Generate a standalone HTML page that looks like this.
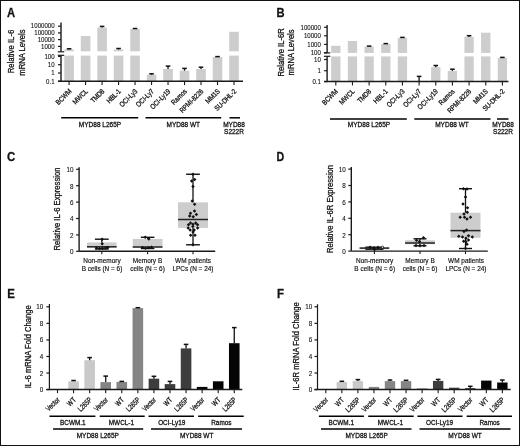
<!DOCTYPE html>
<html><head><meta charset="utf-8"><style>
html,body{margin:0;padding:0;background:#fff;}
#fig{position:relative;width:520px;height:446px;box-sizing:border-box;border:1px solid #111;overflow:hidden;background:#fff;}
svg{position:absolute;left:-1px;top:-1px;will-change:transform;}
text{font-family:"Liberation Sans", sans-serif;stroke:#111;stroke-width:0.28px;paint-order:stroke;}
text.tk{stroke-width:0.1px;}
text.lt{stroke-width:0.16px;}
</style></head><body>
<div id="fig"><svg width="520" height="446" viewBox="0 0 520 446" font-family='"Liberation Sans", sans-serif'>
<text x="6.90" y="16.60" font-size="12.4" text-anchor="start" font-weight="bold" fill="#111" textLength="8.10" lengthAdjust="spacingAndGlyphs">A</text>
<text x="276.60" y="17.00" font-size="12.4" text-anchor="start" font-weight="bold" fill="#111" textLength="8.10" lengthAdjust="spacingAndGlyphs">B</text>
<text x="6.90" y="160.80" font-size="12.4" text-anchor="start" font-weight="bold" fill="#111" textLength="8.30" lengthAdjust="spacingAndGlyphs">C</text>
<text x="276.60" y="160.80" font-size="12.4" text-anchor="start" font-weight="bold" fill="#111" textLength="7.70" lengthAdjust="spacingAndGlyphs">D</text>
<text x="7.20" y="298.30" font-size="12.4" text-anchor="start" font-weight="bold" fill="#111" textLength="7.60" lengthAdjust="spacingAndGlyphs">E</text>
<text x="277.00" y="298.30" font-size="12.4" text-anchor="start" font-weight="bold" fill="#111" textLength="7.00" lengthAdjust="spacingAndGlyphs">F</text>
<rect x="64.30" y="49.50" width="9.60" height="1.80" fill="#cdcdcd"/>
<rect x="64.30" y="55.60" width="9.60" height="25.70" fill="#cdcdcd"/>
<line x1="69.10" y1="48.80" x2="69.10" y2="49.50" stroke="#111" stroke-width="1.3"/>
<line x1="66.80" y1="48.80" x2="71.40" y2="48.80" stroke="#111" stroke-width="1.5"/>
<rect x="80.79" y="36.00" width="9.60" height="15.30" fill="#cdcdcd"/>
<rect x="80.79" y="55.60" width="9.60" height="25.70" fill="#cdcdcd"/>
<rect x="97.28" y="27.60" width="9.60" height="23.70" fill="#cdcdcd"/>
<rect x="97.28" y="55.60" width="9.60" height="25.70" fill="#cdcdcd"/>
<line x1="102.08" y1="26.40" x2="102.08" y2="27.60" stroke="#111" stroke-width="1.3"/>
<line x1="99.78" y1="26.40" x2="104.38" y2="26.40" stroke="#111" stroke-width="1.5"/>
<rect x="113.77" y="49.50" width="9.60" height="1.80" fill="#cdcdcd"/>
<rect x="113.77" y="55.60" width="9.60" height="25.70" fill="#cdcdcd"/>
<line x1="118.57" y1="48.50" x2="118.57" y2="49.50" stroke="#111" stroke-width="1.3"/>
<line x1="116.27" y1="48.50" x2="120.87" y2="48.50" stroke="#111" stroke-width="1.5"/>
<rect x="130.26" y="28.90" width="9.60" height="22.40" fill="#cdcdcd"/>
<rect x="130.26" y="55.60" width="9.60" height="25.70" fill="#cdcdcd"/>
<line x1="135.06" y1="28.50" x2="135.06" y2="28.90" stroke="#111" stroke-width="1.3"/>
<line x1="132.76" y1="28.50" x2="137.36" y2="28.50" stroke="#111" stroke-width="1.5"/>
<rect x="146.75" y="74.70" width="9.60" height="6.60" fill="#cdcdcd"/>
<line x1="151.55" y1="73.80" x2="151.55" y2="74.70" stroke="#111" stroke-width="1.3"/>
<line x1="149.25" y1="73.80" x2="153.85" y2="73.80" stroke="#111" stroke-width="1.5"/>
<rect x="163.24" y="69.00" width="9.60" height="12.30" fill="#cdcdcd"/>
<line x1="168.04" y1="66.10" x2="168.04" y2="69.00" stroke="#111" stroke-width="1.3"/>
<line x1="165.74" y1="66.10" x2="170.34" y2="66.10" stroke="#111" stroke-width="1.5"/>
<rect x="179.73" y="70.70" width="9.60" height="10.60" fill="#cdcdcd"/>
<line x1="184.53" y1="68.40" x2="184.53" y2="70.70" stroke="#111" stroke-width="1.3"/>
<line x1="182.23" y1="68.40" x2="186.83" y2="68.40" stroke="#111" stroke-width="1.5"/>
<rect x="196.22" y="69.00" width="9.60" height="12.30" fill="#cdcdcd"/>
<line x1="201.02" y1="67.20" x2="201.02" y2="69.00" stroke="#111" stroke-width="1.3"/>
<line x1="198.72" y1="67.20" x2="203.32" y2="67.20" stroke="#111" stroke-width="1.5"/>
<rect x="212.71" y="57.00" width="9.60" height="24.30" fill="#cdcdcd"/>
<line x1="217.51" y1="56.60" x2="217.51" y2="57.00" stroke="#111" stroke-width="1.3"/>
<line x1="215.21" y1="56.60" x2="219.81" y2="56.60" stroke="#111" stroke-width="1.5"/>
<rect x="229.20" y="31.80" width="9.60" height="19.50" fill="#cdcdcd"/>
<rect x="229.20" y="55.60" width="9.60" height="25.70" fill="#cdcdcd"/>
<line x1="61.00" y1="22.60" x2="61.00" y2="51.80" stroke="#1a1a1a" stroke-width="1.4"/>
<line x1="61.00" y1="55.30" x2="61.00" y2="81.30" stroke="#1a1a1a" stroke-width="1.4"/>
<line x1="57.80" y1="51.80" x2="64.20" y2="51.80" stroke="#1a1a1a" stroke-width="1.2"/>
<line x1="57.80" y1="55.30" x2="64.20" y2="55.30" stroke="#1a1a1a" stroke-width="1.2"/>
<line x1="58.00" y1="26.20" x2="61.00" y2="26.20" stroke="#1a1a1a" stroke-width="1.2"/>
<text class="tk" x="54.60" y="28.40" font-size="6.6" text-anchor="end" fill="#111" textLength="23.75" lengthAdjust="spacingAndGlyphs">1000000</text>
<line x1="58.00" y1="32.90" x2="61.00" y2="32.90" stroke="#1a1a1a" stroke-width="1.2"/>
<text class="tk" x="54.60" y="35.10" font-size="6.6" text-anchor="end" fill="#111" textLength="20.36" lengthAdjust="spacingAndGlyphs">100000</text>
<line x1="58.00" y1="39.60" x2="61.00" y2="39.60" stroke="#1a1a1a" stroke-width="1.2"/>
<text class="tk" x="54.60" y="41.80" font-size="6.6" text-anchor="end" fill="#111" textLength="16.96" lengthAdjust="spacingAndGlyphs">10000</text>
<line x1="58.00" y1="46.40" x2="61.00" y2="46.40" stroke="#1a1a1a" stroke-width="1.2"/>
<text class="tk" x="54.60" y="48.60" font-size="6.6" text-anchor="end" fill="#111" textLength="13.57" lengthAdjust="spacingAndGlyphs">1000</text>
<line x1="58.00" y1="56.40" x2="61.00" y2="56.40" stroke="#1a1a1a" stroke-width="1.2"/>
<text class="tk" x="54.60" y="58.60" font-size="6.6" text-anchor="end" fill="#111" textLength="10.18" lengthAdjust="spacingAndGlyphs">100</text>
<line x1="58.00" y1="64.70" x2="61.00" y2="64.70" stroke="#1a1a1a" stroke-width="1.2"/>
<text class="tk" x="54.60" y="66.90" font-size="6.6" text-anchor="end" fill="#111" textLength="6.79" lengthAdjust="spacingAndGlyphs">10</text>
<line x1="58.00" y1="73.00" x2="61.00" y2="73.00" stroke="#1a1a1a" stroke-width="1.2"/>
<text class="tk" x="54.60" y="75.20" font-size="6.6" text-anchor="end" fill="#111" textLength="3.39" lengthAdjust="spacingAndGlyphs">1</text>
<line x1="58.00" y1="81.30" x2="61.00" y2="81.30" stroke="#1a1a1a" stroke-width="1.2"/>
<text class="tk" x="54.60" y="83.50" font-size="6.6" text-anchor="end" fill="#111" textLength="8.48" lengthAdjust="spacingAndGlyphs">0.1</text>
<line x1="58.00" y1="81.30" x2="243.00" y2="81.30" stroke="#1a1a1a" stroke-width="1.5"/>
<text x="14.40" y="51.50" font-size="8.6" text-anchor="middle" fill="#111" transform="rotate(-90 14.40 51.50)" textLength="43.60" lengthAdjust="spacingAndGlyphs">Relative IL-6</text>
<text x="24.80" y="52.60" font-size="8.6" text-anchor="middle" fill="#111" transform="rotate(-90 24.80 52.60)" textLength="46.20" lengthAdjust="spacingAndGlyphs">mRNA Levels</text>
<line x1="69.10" y1="81.30" x2="69.10" y2="85.10" stroke="#1a1a1a" stroke-width="1.1"/>
<text x="72.00" y="91.80" font-size="7.2" text-anchor="end" fill="#111" transform="rotate(-45 72.00 91.80)" textLength="19.00" lengthAdjust="spacingAndGlyphs">BCWM</text>
<line x1="85.59" y1="81.30" x2="85.59" y2="85.10" stroke="#1a1a1a" stroke-width="1.1"/>
<text x="88.49" y="91.80" font-size="7.2" text-anchor="end" fill="#111" transform="rotate(-45 88.49 91.80)" textLength="18.33" lengthAdjust="spacingAndGlyphs">MWCL</text>
<line x1="102.08" y1="81.30" x2="102.08" y2="85.10" stroke="#1a1a1a" stroke-width="1.1"/>
<text x="104.98" y="91.80" font-size="7.2" text-anchor="end" fill="#111" transform="rotate(-45 104.98 91.80)" textLength="16.33" lengthAdjust="spacingAndGlyphs">TMD8</text>
<line x1="118.57" y1="81.30" x2="118.57" y2="85.10" stroke="#1a1a1a" stroke-width="1.1"/>
<text x="121.47" y="91.80" font-size="7.2" text-anchor="end" fill="#111" transform="rotate(-45 121.47 91.80)" textLength="17.01" lengthAdjust="spacingAndGlyphs">HBL-1</text>
<line x1="135.06" y1="81.30" x2="135.06" y2="85.10" stroke="#1a1a1a" stroke-width="1.1"/>
<text x="137.96" y="91.80" font-size="7.2" text-anchor="end" fill="#111" transform="rotate(-45 137.96 91.80)" textLength="22.12" lengthAdjust="spacingAndGlyphs">OCI-Ly3</text>
<line x1="151.55" y1="81.30" x2="151.55" y2="85.10" stroke="#1a1a1a" stroke-width="1.1"/>
<text x="154.45" y="91.80" font-size="7.2" text-anchor="end" fill="#111" transform="rotate(-45 154.45 91.80)" textLength="22.12" lengthAdjust="spacingAndGlyphs">OCI-Ly7</text>
<line x1="168.04" y1="81.30" x2="168.04" y2="85.10" stroke="#1a1a1a" stroke-width="1.1"/>
<text x="170.94" y="91.80" font-size="7.2" text-anchor="end" fill="#111" transform="rotate(-45 170.94 91.80)" textLength="25.45" lengthAdjust="spacingAndGlyphs">OCI-Ly19</text>
<line x1="184.53" y1="81.30" x2="184.53" y2="85.10" stroke="#1a1a1a" stroke-width="1.1"/>
<text x="187.43" y="91.80" font-size="7.2" text-anchor="end" fill="#111" transform="rotate(-45 187.43 91.80)" textLength="19.00" lengthAdjust="spacingAndGlyphs">Ramos</text>
<line x1="201.02" y1="81.30" x2="201.02" y2="85.10" stroke="#1a1a1a" stroke-width="1.1"/>
<text x="203.92" y="91.80" font-size="7.2" text-anchor="end" fill="#111" transform="rotate(-45 203.92 91.80)" textLength="30.35" lengthAdjust="spacingAndGlyphs">RPMI-8226</text>
<line x1="217.51" y1="81.30" x2="217.51" y2="85.10" stroke="#1a1a1a" stroke-width="1.1"/>
<text x="220.41" y="91.80" font-size="7.2" text-anchor="end" fill="#111" transform="rotate(-45 220.41 91.80)" textLength="17.34" lengthAdjust="spacingAndGlyphs">MM1S</text>
<line x1="234.00" y1="81.30" x2="234.00" y2="85.10" stroke="#1a1a1a" stroke-width="1.1"/>
<text x="236.90" y="91.80" font-size="7.2" text-anchor="end" fill="#111" transform="rotate(-45 236.90 91.80)" textLength="27.67" lengthAdjust="spacingAndGlyphs">SU-DHL-2</text>
<line x1="61.20" y1="117.80" x2="138.20" y2="117.80" stroke="#000" stroke-width="1.5"/>
<line x1="145.50" y1="117.80" x2="221.20" y2="117.80" stroke="#000" stroke-width="1.5"/>
<line x1="229.50" y1="117.80" x2="240.00" y2="117.80" stroke="#000" stroke-width="1.5"/>
<text x="100.00" y="126.80" font-size="7.0" text-anchor="middle" fill="#111" textLength="42.28" lengthAdjust="spacingAndGlyphs">MYD88 L265P</text>
<text x="183.30" y="126.80" font-size="7.0" text-anchor="middle" fill="#111" textLength="33.59" lengthAdjust="spacingAndGlyphs">MYD88 WT</text>
<text x="234.00" y="126.60" font-size="7.0" text-anchor="middle" fill="#111" textLength="21.67" lengthAdjust="spacingAndGlyphs">MYD88</text>
<text x="234.00" y="134.00" font-size="7.0" text-anchor="middle" fill="#111" textLength="19.87" lengthAdjust="spacingAndGlyphs">S222R</text>
<rect x="331.15" y="45.80" width="9.30" height="7.10" fill="#cdcdcd"/>
<rect x="331.15" y="56.40" width="9.30" height="25.20" fill="#cdcdcd"/>
<rect x="347.81" y="41.00" width="9.30" height="11.90" fill="#cdcdcd"/>
<rect x="347.81" y="56.40" width="9.30" height="25.20" fill="#cdcdcd"/>
<rect x="364.47" y="46.60" width="9.30" height="6.30" fill="#cdcdcd"/>
<rect x="364.47" y="56.40" width="9.30" height="25.20" fill="#cdcdcd"/>
<line x1="369.12" y1="46.10" x2="369.12" y2="46.60" stroke="#111" stroke-width="1.3"/>
<line x1="366.82" y1="46.10" x2="371.42" y2="46.10" stroke="#111" stroke-width="1.5"/>
<rect x="381.13" y="44.00" width="9.30" height="8.90" fill="#cdcdcd"/>
<rect x="381.13" y="56.40" width="9.30" height="25.20" fill="#cdcdcd"/>
<line x1="385.78" y1="43.60" x2="385.78" y2="44.00" stroke="#111" stroke-width="1.3"/>
<line x1="383.48" y1="43.60" x2="388.08" y2="43.60" stroke="#111" stroke-width="1.5"/>
<rect x="397.79" y="37.70" width="9.30" height="15.20" fill="#cdcdcd"/>
<rect x="397.79" y="56.40" width="9.30" height="25.20" fill="#cdcdcd"/>
<line x1="402.44" y1="37.40" x2="402.44" y2="37.70" stroke="#111" stroke-width="1.3"/>
<line x1="400.14" y1="37.40" x2="404.74" y2="37.40" stroke="#111" stroke-width="1.5"/>
<line x1="419.10" y1="76.40" x2="419.10" y2="81.60" stroke="#111" stroke-width="1.3"/>
<line x1="416.80" y1="76.40" x2="421.40" y2="76.40" stroke="#111" stroke-width="1.5"/>
<rect x="431.11" y="67.20" width="9.30" height="14.40" fill="#cdcdcd"/>
<line x1="435.76" y1="65.50" x2="435.76" y2="67.20" stroke="#111" stroke-width="1.3"/>
<line x1="433.46" y1="65.50" x2="438.06" y2="65.50" stroke="#111" stroke-width="1.5"/>
<rect x="447.77" y="70.90" width="9.30" height="10.70" fill="#cdcdcd"/>
<line x1="452.42" y1="69.20" x2="452.42" y2="70.90" stroke="#111" stroke-width="1.3"/>
<line x1="450.12" y1="69.20" x2="454.72" y2="69.20" stroke="#111" stroke-width="1.5"/>
<rect x="464.43" y="36.90" width="9.30" height="16.00" fill="#cdcdcd"/>
<rect x="464.43" y="56.40" width="9.30" height="25.20" fill="#cdcdcd"/>
<line x1="469.08" y1="35.70" x2="469.08" y2="36.90" stroke="#111" stroke-width="1.3"/>
<line x1="466.78" y1="35.70" x2="471.38" y2="35.70" stroke="#111" stroke-width="1.5"/>
<rect x="481.09" y="32.70" width="9.30" height="20.20" fill="#cdcdcd"/>
<rect x="481.09" y="56.40" width="9.30" height="25.20" fill="#cdcdcd"/>
<rect x="497.75" y="57.90" width="9.30" height="23.70" fill="#cdcdcd"/>
<line x1="502.40" y1="57.40" x2="502.40" y2="57.90" stroke="#111" stroke-width="1.3"/>
<line x1="500.10" y1="57.40" x2="504.70" y2="57.40" stroke="#111" stroke-width="1.5"/>
<line x1="327.10" y1="25.00" x2="327.10" y2="52.90" stroke="#1a1a1a" stroke-width="1.4"/>
<line x1="327.10" y1="56.30" x2="327.10" y2="81.60" stroke="#1a1a1a" stroke-width="1.4"/>
<line x1="323.90" y1="52.90" x2="330.30" y2="52.90" stroke="#1a1a1a" stroke-width="1.2"/>
<line x1="323.90" y1="56.30" x2="330.30" y2="56.30" stroke="#1a1a1a" stroke-width="1.2"/>
<line x1="324.10" y1="27.30" x2="327.10" y2="27.30" stroke="#1a1a1a" stroke-width="1.2"/>
<text class="tk" x="320.90" y="29.50" font-size="6.6" text-anchor="end" fill="#111" textLength="20.36" lengthAdjust="spacingAndGlyphs">100000</text>
<line x1="324.10" y1="35.80" x2="327.10" y2="35.80" stroke="#1a1a1a" stroke-width="1.2"/>
<text class="tk" x="320.90" y="38.00" font-size="6.6" text-anchor="end" fill="#111" textLength="16.96" lengthAdjust="spacingAndGlyphs">10000</text>
<line x1="324.10" y1="44.40" x2="327.10" y2="44.40" stroke="#1a1a1a" stroke-width="1.2"/>
<text class="tk" x="320.90" y="46.60" font-size="6.6" text-anchor="end" fill="#111" textLength="13.57" lengthAdjust="spacingAndGlyphs">1000</text>
<line x1="324.10" y1="52.80" x2="327.10" y2="52.80" stroke="#1a1a1a" stroke-width="1.2"/>
<text class="tk" x="320.90" y="55.00" font-size="6.6" text-anchor="end" fill="#111" textLength="10.18" lengthAdjust="spacingAndGlyphs">100</text>
<line x1="324.10" y1="59.50" x2="327.10" y2="59.50" stroke="#1a1a1a" stroke-width="1.2"/>
<text class="tk" x="320.90" y="61.70" font-size="6.6" text-anchor="end" fill="#111" textLength="6.79" lengthAdjust="spacingAndGlyphs">10</text>
<line x1="324.10" y1="70.70" x2="327.10" y2="70.70" stroke="#1a1a1a" stroke-width="1.2"/>
<text class="tk" x="320.90" y="72.90" font-size="6.6" text-anchor="end" fill="#111" textLength="3.39" lengthAdjust="spacingAndGlyphs">1</text>
<line x1="324.10" y1="81.60" x2="327.10" y2="81.60" stroke="#1a1a1a" stroke-width="1.2"/>
<text class="tk" x="320.90" y="83.80" font-size="6.6" text-anchor="end" fill="#111" textLength="8.48" lengthAdjust="spacingAndGlyphs">0.1</text>
<line x1="324.10" y1="81.60" x2="508.50" y2="81.60" stroke="#1a1a1a" stroke-width="1.5"/>
<text x="284.20" y="52.40" font-size="8.6" text-anchor="middle" fill="#111" transform="rotate(-90 284.20 52.40)" textLength="48.20" lengthAdjust="spacingAndGlyphs">Relative IL-6R</text>
<text x="294.40" y="52.40" font-size="8.6" text-anchor="middle" fill="#111" transform="rotate(-90 294.40 52.40)" textLength="46.00" lengthAdjust="spacingAndGlyphs">mRNA Levels</text>
<line x1="335.80" y1="81.60" x2="335.80" y2="85.40" stroke="#1a1a1a" stroke-width="1.1"/>
<text x="338.40" y="92.00" font-size="7.2" text-anchor="end" fill="#111" transform="rotate(-45 338.40 92.00)" textLength="19.00" lengthAdjust="spacingAndGlyphs">BCWM</text>
<line x1="352.46" y1="81.60" x2="352.46" y2="85.40" stroke="#1a1a1a" stroke-width="1.1"/>
<text x="355.06" y="92.00" font-size="7.2" text-anchor="end" fill="#111" transform="rotate(-45 355.06 92.00)" textLength="18.33" lengthAdjust="spacingAndGlyphs">MWCL</text>
<line x1="369.12" y1="81.60" x2="369.12" y2="85.40" stroke="#1a1a1a" stroke-width="1.1"/>
<text x="371.72" y="92.00" font-size="7.2" text-anchor="end" fill="#111" transform="rotate(-45 371.72 92.00)" textLength="16.33" lengthAdjust="spacingAndGlyphs">TMD8</text>
<line x1="385.78" y1="81.60" x2="385.78" y2="85.40" stroke="#1a1a1a" stroke-width="1.1"/>
<text x="388.38" y="92.00" font-size="7.2" text-anchor="end" fill="#111" transform="rotate(-45 388.38 92.00)" textLength="17.01" lengthAdjust="spacingAndGlyphs">HBL-1</text>
<line x1="402.44" y1="81.60" x2="402.44" y2="85.40" stroke="#1a1a1a" stroke-width="1.1"/>
<text x="405.04" y="92.00" font-size="7.2" text-anchor="end" fill="#111" transform="rotate(-45 405.04 92.00)" textLength="22.12" lengthAdjust="spacingAndGlyphs">OCI-Ly3</text>
<line x1="419.10" y1="81.60" x2="419.10" y2="85.40" stroke="#1a1a1a" stroke-width="1.1"/>
<text x="421.70" y="92.00" font-size="7.2" text-anchor="end" fill="#111" transform="rotate(-45 421.70 92.00)" textLength="22.12" lengthAdjust="spacingAndGlyphs">OCI-Ly7</text>
<line x1="435.76" y1="81.60" x2="435.76" y2="85.40" stroke="#1a1a1a" stroke-width="1.1"/>
<text x="438.36" y="92.00" font-size="7.2" text-anchor="end" fill="#111" transform="rotate(-45 438.36 92.00)" textLength="25.45" lengthAdjust="spacingAndGlyphs">OCI-Ly19</text>
<line x1="452.42" y1="81.60" x2="452.42" y2="85.40" stroke="#1a1a1a" stroke-width="1.1"/>
<text x="455.02" y="92.00" font-size="7.2" text-anchor="end" fill="#111" transform="rotate(-45 455.02 92.00)" textLength="19.00" lengthAdjust="spacingAndGlyphs">Ramos</text>
<line x1="469.08" y1="81.60" x2="469.08" y2="85.40" stroke="#1a1a1a" stroke-width="1.1"/>
<text x="471.68" y="92.00" font-size="7.2" text-anchor="end" fill="#111" transform="rotate(-45 471.68 92.00)" textLength="30.35" lengthAdjust="spacingAndGlyphs">RPMI-8226</text>
<line x1="485.74" y1="81.60" x2="485.74" y2="85.40" stroke="#1a1a1a" stroke-width="1.1"/>
<text x="488.34" y="92.00" font-size="7.2" text-anchor="end" fill="#111" transform="rotate(-45 488.34 92.00)" textLength="17.34" lengthAdjust="spacingAndGlyphs">MM1S</text>
<line x1="502.40" y1="81.60" x2="502.40" y2="85.40" stroke="#1a1a1a" stroke-width="1.1"/>
<text x="505.00" y="92.00" font-size="7.2" text-anchor="end" fill="#111" transform="rotate(-45 505.00 92.00)" textLength="27.67" lengthAdjust="spacingAndGlyphs">SU-DHL-2</text>
<line x1="330.00" y1="119.00" x2="406.80" y2="119.00" stroke="#000" stroke-width="1.5"/>
<line x1="414.30" y1="119.00" x2="490.50" y2="119.00" stroke="#000" stroke-width="1.5"/>
<line x1="497.00" y1="119.00" x2="508.50" y2="119.00" stroke="#000" stroke-width="1.5"/>
<text x="369.00" y="127.20" font-size="7.0" text-anchor="middle" fill="#111" textLength="42.28" lengthAdjust="spacingAndGlyphs">MYD88 L265P</text>
<text x="452.00" y="127.10" font-size="7.0" text-anchor="middle" fill="#111" textLength="33.59" lengthAdjust="spacingAndGlyphs">MYD88 WT</text>
<text x="503.00" y="126.90" font-size="7.0" text-anchor="middle" fill="#111" textLength="21.67" lengthAdjust="spacingAndGlyphs">MYD88</text>
<text x="503.00" y="133.90" font-size="7.0" text-anchor="middle" fill="#111" textLength="19.87" lengthAdjust="spacingAndGlyphs">S222R</text>
<line x1="79.10" y1="167.20" x2="79.10" y2="251.30" stroke="#1a1a1a" stroke-width="1.4"/>
<line x1="79.10" y1="251.30" x2="215.20" y2="251.30" stroke="#1a1a1a" stroke-width="1.4"/>
<line x1="76.10" y1="251.30" x2="79.10" y2="251.30" stroke="#1a1a1a" stroke-width="1.2"/>
<text class="tk" x="73.50" y="254.10" font-size="6.6" text-anchor="end" fill="#111" textLength="3.50" lengthAdjust="spacingAndGlyphs">0</text>
<line x1="76.10" y1="234.90" x2="79.10" y2="234.90" stroke="#1a1a1a" stroke-width="1.2"/>
<text class="tk" x="73.50" y="237.70" font-size="6.6" text-anchor="end" fill="#111" textLength="3.50" lengthAdjust="spacingAndGlyphs">2</text>
<line x1="76.10" y1="218.50" x2="79.10" y2="218.50" stroke="#1a1a1a" stroke-width="1.2"/>
<text class="tk" x="73.50" y="221.30" font-size="6.6" text-anchor="end" fill="#111" textLength="3.50" lengthAdjust="spacingAndGlyphs">4</text>
<line x1="76.10" y1="202.10" x2="79.10" y2="202.10" stroke="#1a1a1a" stroke-width="1.2"/>
<text class="tk" x="73.50" y="204.90" font-size="6.6" text-anchor="end" fill="#111" textLength="3.50" lengthAdjust="spacingAndGlyphs">6</text>
<line x1="76.10" y1="185.70" x2="79.10" y2="185.70" stroke="#1a1a1a" stroke-width="1.2"/>
<text class="tk" x="73.50" y="188.50" font-size="6.6" text-anchor="end" fill="#111" textLength="3.50" lengthAdjust="spacingAndGlyphs">8</text>
<line x1="76.10" y1="169.30" x2="79.10" y2="169.30" stroke="#1a1a1a" stroke-width="1.2"/>
<text class="tk" x="73.50" y="172.10" font-size="6.6" text-anchor="end" fill="#111" textLength="7.01" lengthAdjust="spacingAndGlyphs">10</text>
<text x="60.40" y="209.00" font-size="8.6" text-anchor="middle" fill="#111" transform="rotate(-90 60.40 209.00)" textLength="82.80" lengthAdjust="spacingAndGlyphs">Relative IL-6 Expression</text>
<rect x="87.00" y="242.40" width="29.60" height="5.20" fill="#cdcdcd"/>
<line x1="101.80" y1="239.20" x2="101.80" y2="242.40" stroke="#111" stroke-width="1.3"/>
<line x1="101.80" y1="247.60" x2="101.80" y2="249.00" stroke="#111" stroke-width="1.3"/>
<line x1="94.90" y1="239.20" x2="108.70" y2="239.20" stroke="#111" stroke-width="1.4"/>
<line x1="94.90" y1="249.00" x2="108.70" y2="249.00" stroke="#111" stroke-width="1.4"/>
<line x1="87.00" y1="246.80" x2="116.60" y2="246.80" stroke="#222" stroke-width="1.5"/>
<path d="M102.20 237.45L103.95 239.20L102.20 240.95L100.45 239.20Z" fill="#111"/>
<path d="M102.20 241.95L103.95 243.70L102.20 245.45L100.45 243.70Z" fill="#111"/>
<path d="M96.50 246.25L98.25 248.00L96.50 249.75L94.75 248.00Z" fill="#111"/>
<path d="M99.50 246.85L101.25 248.60L99.50 250.35L97.75 248.60Z" fill="#111"/>
<path d="M102.50 246.45L104.25 248.20L102.50 249.95L100.75 248.20Z" fill="#111"/>
<path d="M105.50 246.25L107.25 248.00L105.50 249.75L103.75 248.00Z" fill="#111"/>
<path d="M107.80 245.65L109.55 247.40L107.80 249.15L106.05 247.40Z" fill="#111"/>
<line x1="101.80" y1="251.30" x2="101.80" y2="254.30" stroke="#1a1a1a" stroke-width="1.1"/>
<rect x="132.70" y="238.90" width="29.80" height="8.60" fill="#cdcdcd"/>
<line x1="147.60" y1="237.30" x2="147.60" y2="238.90" stroke="#111" stroke-width="1.3"/>
<line x1="147.60" y1="247.50" x2="147.60" y2="248.50" stroke="#111" stroke-width="1.3"/>
<line x1="140.80" y1="237.30" x2="154.40" y2="237.30" stroke="#111" stroke-width="1.4"/>
<line x1="140.80" y1="248.50" x2="154.40" y2="248.50" stroke="#111" stroke-width="1.4"/>
<line x1="132.70" y1="247.00" x2="162.50" y2="247.00" stroke="#222" stroke-width="1.5"/>
<path d="M145.20 235.45L146.95 237.20L145.20 238.95L143.45 237.20Z" fill="#111"/>
<path d="M148.80 237.15L150.55 238.90L148.80 240.65L147.05 238.90Z" fill="#111"/>
<path d="M142.50 245.85L144.25 247.60L142.50 249.35L140.75 247.60Z" fill="#111"/>
<path d="M145.50 246.45L147.25 248.20L145.50 249.95L143.75 248.20Z" fill="#111"/>
<path d="M148.50 246.05L150.25 247.80L148.50 249.55L146.75 247.80Z" fill="#111"/>
<path d="M151.50 245.45L153.25 247.20L151.50 248.95L149.75 247.20Z" fill="#111"/>
<line x1="147.60" y1="251.30" x2="147.60" y2="254.30" stroke="#1a1a1a" stroke-width="1.1"/>
<rect x="178.00" y="202.30" width="30.00" height="25.60" fill="#cdcdcd"/>
<line x1="193.00" y1="174.25" x2="193.00" y2="202.30" stroke="#111" stroke-width="1.3"/>
<line x1="193.00" y1="227.90" x2="193.00" y2="244.80" stroke="#111" stroke-width="1.3"/>
<line x1="186.10" y1="174.25" x2="199.90" y2="174.25" stroke="#111" stroke-width="1.4"/>
<line x1="186.10" y1="244.80" x2="199.90" y2="244.80" stroke="#111" stroke-width="1.4"/>
<line x1="178.00" y1="219.50" x2="208.00" y2="219.50" stroke="#222" stroke-width="1.5"/>
<path d="M193.00 172.55L194.75 174.30L193.00 176.05L191.25 174.30Z" fill="#111"/>
<path d="M194.60 177.75L196.35 179.50L194.60 181.25L192.85 179.50Z" fill="#111"/>
<path d="M191.60 179.35L193.35 181.10L191.60 182.85L189.85 181.10Z" fill="#111"/>
<path d="M193.00 184.75L194.75 186.50L193.00 188.25L191.25 186.50Z" fill="#111"/>
<path d="M192.20 199.25L193.95 201.00L192.20 202.75L190.45 201.00Z" fill="#111"/>
<path d="M194.60 202.45L196.35 204.20L194.60 205.95L192.85 204.20Z" fill="#111"/>
<path d="M194.50 209.25L196.25 211.00L194.50 212.75L192.75 211.00Z" fill="#111"/>
<path d="M190.50 211.45L192.25 213.20L190.50 214.95L188.75 213.20Z" fill="#111"/>
<path d="M196.40 212.65L198.15 214.40L196.40 216.15L194.65 214.40Z" fill="#111"/>
<path d="M189.70 214.25L191.45 216.00L189.70 217.75L187.95 216.00Z" fill="#111"/>
<path d="M193.20 214.95L194.95 216.70L193.20 218.45L191.45 216.70Z" fill="#111"/>
<path d="M190.50 221.15L192.25 222.90L190.50 224.65L188.75 222.90Z" fill="#111"/>
<path d="M195.70 221.25L197.45 223.00L195.70 224.75L193.95 223.00Z" fill="#111"/>
<path d="M193.00 222.45L194.75 224.20L193.00 225.95L191.25 224.20Z" fill="#111"/>
<path d="M188.50 223.05L190.25 224.80L188.50 226.55L186.75 224.80Z" fill="#111"/>
<path d="M197.50 223.05L199.25 224.80L197.50 226.55L195.75 224.80Z" fill="#111"/>
<path d="M188.20 226.15L189.95 227.90L188.20 229.65L186.45 227.90Z" fill="#111"/>
<path d="M197.60 226.15L199.35 227.90L197.60 229.65L195.85 227.90Z" fill="#111"/>
<path d="M192.80 224.85L194.55 226.60L192.80 228.35L191.05 226.60Z" fill="#111"/>
<path d="M190.20 228.15L191.95 229.90L190.20 231.65L188.45 229.90Z" fill="#111"/>
<path d="M194.20 228.15L195.95 229.90L194.20 231.65L192.45 229.90Z" fill="#111"/>
<path d="M193.00 230.25L194.75 232.00L193.00 233.75L191.25 232.00Z" fill="#111"/>
<path d="M190.60 233.45L192.35 235.20L190.60 236.95L188.85 235.20Z" fill="#111"/>
<path d="M195.00 233.45L196.75 235.20L195.00 236.95L193.25 235.20Z" fill="#111"/>
<path d="M193.00 243.05L194.75 244.80L193.00 246.55L191.25 244.80Z" fill="#111"/>
<line x1="193.00" y1="251.30" x2="193.00" y2="254.30" stroke="#1a1a1a" stroke-width="1.1"/>
<text class="lt" x="102.00" y="262.90" font-size="6.8" text-anchor="middle" fill="#111" textLength="37.27" lengthAdjust="spacingAndGlyphs">Non-memory</text>
<text class="lt" x="102.00" y="270.60" font-size="6.8" text-anchor="middle" fill="#111" textLength="40.68" lengthAdjust="spacingAndGlyphs">B cells (N = 6)</text>
<text class="lt" x="147.50" y="262.90" font-size="6.8" text-anchor="middle" fill="#111" textLength="29.39" lengthAdjust="spacingAndGlyphs">Memory B</text>
<text class="lt" x="147.50" y="270.60" font-size="6.8" text-anchor="middle" fill="#111" textLength="34.59" lengthAdjust="spacingAndGlyphs">cells (N = 6)</text>
<text class="lt" x="193.00" y="262.90" font-size="6.8" text-anchor="middle" fill="#111" textLength="35.84" lengthAdjust="spacingAndGlyphs">WM patients</text>
<text class="lt" x="193.00" y="270.60" font-size="6.8" text-anchor="middle" fill="#111" textLength="41.04" lengthAdjust="spacingAndGlyphs">LPCs (N = 24)</text>
<line x1="351.30" y1="167.00" x2="351.30" y2="251.10" stroke="#1a1a1a" stroke-width="1.4"/>
<line x1="351.30" y1="251.10" x2="487.80" y2="251.10" stroke="#1a1a1a" stroke-width="1.4"/>
<line x1="348.30" y1="251.10" x2="351.30" y2="251.10" stroke="#1a1a1a" stroke-width="1.2"/>
<text class="tk" x="345.70" y="253.90" font-size="6.6" text-anchor="end" fill="#111" textLength="3.50" lengthAdjust="spacingAndGlyphs">0</text>
<line x1="348.30" y1="234.70" x2="351.30" y2="234.70" stroke="#1a1a1a" stroke-width="1.2"/>
<text class="tk" x="345.70" y="237.50" font-size="6.6" text-anchor="end" fill="#111" textLength="3.50" lengthAdjust="spacingAndGlyphs">2</text>
<line x1="348.30" y1="218.30" x2="351.30" y2="218.30" stroke="#1a1a1a" stroke-width="1.2"/>
<text class="tk" x="345.70" y="221.10" font-size="6.6" text-anchor="end" fill="#111" textLength="3.50" lengthAdjust="spacingAndGlyphs">4</text>
<line x1="348.30" y1="201.90" x2="351.30" y2="201.90" stroke="#1a1a1a" stroke-width="1.2"/>
<text class="tk" x="345.70" y="204.70" font-size="6.6" text-anchor="end" fill="#111" textLength="3.50" lengthAdjust="spacingAndGlyphs">6</text>
<line x1="348.30" y1="185.50" x2="351.30" y2="185.50" stroke="#1a1a1a" stroke-width="1.2"/>
<text class="tk" x="345.70" y="188.30" font-size="6.6" text-anchor="end" fill="#111" textLength="3.50" lengthAdjust="spacingAndGlyphs">8</text>
<line x1="348.30" y1="169.10" x2="351.30" y2="169.10" stroke="#1a1a1a" stroke-width="1.2"/>
<text class="tk" x="345.70" y="171.90" font-size="6.6" text-anchor="end" fill="#111" textLength="7.01" lengthAdjust="spacingAndGlyphs">10</text>
<text x="333.10" y="208.90" font-size="8.6" text-anchor="middle" fill="#111" transform="rotate(-90 333.10 208.90)" textLength="88.00" lengthAdjust="spacingAndGlyphs">Relative IL-6R Expression</text>
<rect x="359.60" y="247.20" width="29.60" height="2.00" fill="#cdcdcd"/>
<line x1="374.40" y1="247.20" x2="374.40" y2="247.20" stroke="#111" stroke-width="1.3"/>
<line x1="374.40" y1="249.20" x2="374.40" y2="249.20" stroke="#111" stroke-width="1.3"/>
<line x1="365.35" y1="247.20" x2="383.45" y2="247.20" stroke="#111" stroke-width="1.4"/>
<line x1="365.35" y1="249.20" x2="383.45" y2="249.20" stroke="#111" stroke-width="1.4"/>
<line x1="359.60" y1="248.10" x2="389.20" y2="248.10" stroke="#222" stroke-width="1.5"/>
<path d="M370.00 245.55L371.75 247.30L370.00 249.05L368.25 247.30Z" fill="#111"/>
<path d="M374.00 246.25L375.75 248.00L374.00 249.75L372.25 248.00Z" fill="#111"/>
<path d="M378.00 245.85L379.75 247.60L378.00 249.35L376.25 247.60Z" fill="#111"/>
<path d="M374.50 247.75L376.25 249.50L374.50 251.25L372.75 249.50Z" fill="#111"/>
<line x1="374.40" y1="251.10" x2="374.40" y2="254.10" stroke="#1a1a1a" stroke-width="1.1"/>
<rect x="405.10" y="240.30" width="29.80" height="3.90" fill="#cdcdcd"/>
<line x1="420.00" y1="238.80" x2="420.00" y2="240.30" stroke="#111" stroke-width="1.3"/>
<line x1="420.00" y1="244.20" x2="420.00" y2="245.80" stroke="#111" stroke-width="1.3"/>
<line x1="413.50" y1="238.80" x2="426.50" y2="238.80" stroke="#111" stroke-width="1.4"/>
<line x1="413.50" y1="245.80" x2="426.50" y2="245.80" stroke="#111" stroke-width="1.4"/>
<line x1="405.10" y1="243.00" x2="434.90" y2="243.00" stroke="#222" stroke-width="1.5"/>
<path d="M423.50 236.05L425.25 237.80L423.50 239.55L421.75 237.80Z" fill="#111"/>
<path d="M416.50 238.45L418.25 240.20L416.50 241.95L414.75 240.20Z" fill="#111"/>
<path d="M419.50 239.85L421.25 241.60L419.50 243.35L417.75 241.60Z" fill="#111"/>
<path d="M416.00 243.75L417.75 245.50L416.00 247.25L414.25 245.50Z" fill="#111"/>
<path d="M420.00 244.05L421.75 245.80L420.00 247.55L418.25 245.80Z" fill="#111"/>
<path d="M424.00 243.75L425.75 245.50L424.00 247.25L422.25 245.50Z" fill="#111"/>
<line x1="420.00" y1="251.10" x2="420.00" y2="254.10" stroke="#1a1a1a" stroke-width="1.1"/>
<rect x="450.50" y="212.70" width="30.00" height="25.10" fill="#cdcdcd"/>
<line x1="465.50" y1="188.70" x2="465.50" y2="212.70" stroke="#111" stroke-width="1.3"/>
<line x1="465.50" y1="237.80" x2="465.50" y2="248.50" stroke="#111" stroke-width="1.3"/>
<line x1="459.00" y1="188.70" x2="472.00" y2="188.70" stroke="#111" stroke-width="1.4"/>
<line x1="459.00" y1="248.50" x2="472.00" y2="248.50" stroke="#111" stroke-width="1.4"/>
<line x1="450.50" y1="230.60" x2="480.50" y2="230.60" stroke="#222" stroke-width="1.5"/>
<path d="M463.50 186.95L465.25 188.70L463.50 190.45L461.75 188.70Z" fill="#111"/>
<path d="M467.00 187.25L468.75 189.00L467.00 190.75L465.25 189.00Z" fill="#111"/>
<path d="M465.50 195.35L467.25 197.10L465.50 198.85L463.75 197.10Z" fill="#111"/>
<path d="M463.00 202.25L464.75 204.00L463.00 205.75L461.25 204.00Z" fill="#111"/>
<path d="M467.50 205.95L469.25 207.70L467.50 209.45L465.75 207.70Z" fill="#111"/>
<path d="M467.30 210.45L469.05 212.20L467.30 213.95L465.55 212.20Z" fill="#111"/>
<path d="M464.00 212.25L465.75 214.00L464.00 215.75L462.25 214.00Z" fill="#111"/>
<path d="M460.20 215.45L461.95 217.20L460.20 218.95L458.45 217.20Z" fill="#111"/>
<path d="M464.50 215.45L466.25 217.20L464.50 218.95L462.75 217.20Z" fill="#111"/>
<path d="M470.50 215.45L472.25 217.20L470.50 218.95L468.75 217.20Z" fill="#111"/>
<path d="M467.00 217.15L468.75 218.90L467.00 220.65L465.25 218.90Z" fill="#111"/>
<path d="M466.50 228.15L468.25 229.90L466.50 231.65L464.75 229.90Z" fill="#111"/>
<path d="M464.00 229.75L465.75 231.50L464.00 233.25L462.25 231.50Z" fill="#111"/>
<path d="M458.80 234.55L460.55 236.30L458.80 238.05L457.05 236.30Z" fill="#111"/>
<path d="M462.50 235.35L464.25 237.10L462.50 238.85L460.75 237.10Z" fill="#111"/>
<path d="M468.50 234.05L470.25 235.80L468.50 237.55L466.75 235.80Z" fill="#111"/>
<path d="M472.30 235.15L474.05 236.90L472.30 238.65L470.55 236.90Z" fill="#111"/>
<path d="M466.00 236.45L467.75 238.20L466.00 239.95L464.25 238.20Z" fill="#111"/>
<path d="M468.50 238.15L470.25 239.90L468.50 241.65L466.75 239.90Z" fill="#111"/>
<path d="M463.60 239.45L465.35 241.20L463.60 242.95L461.85 241.20Z" fill="#111"/>
<path d="M466.00 239.95L467.75 241.70L466.00 243.45L464.25 241.70Z" fill="#111"/>
<path d="M467.00 242.45L468.75 244.20L467.00 245.95L465.25 244.20Z" fill="#111"/>
<path d="M465.50 246.75L467.25 248.50L465.50 250.25L463.75 248.50Z" fill="#111"/>
<line x1="465.50" y1="251.10" x2="465.50" y2="254.10" stroke="#1a1a1a" stroke-width="1.1"/>
<text class="lt" x="374.70" y="262.90" font-size="6.8" text-anchor="middle" fill="#111" textLength="37.27" lengthAdjust="spacingAndGlyphs">Non-memory</text>
<text class="lt" x="374.70" y="270.60" font-size="6.8" text-anchor="middle" fill="#111" textLength="40.68" lengthAdjust="spacingAndGlyphs">B cells (N = 6)</text>
<text class="lt" x="420.00" y="262.90" font-size="6.8" text-anchor="middle" fill="#111" textLength="29.39" lengthAdjust="spacingAndGlyphs">Memory B</text>
<text class="lt" x="420.00" y="270.60" font-size="6.8" text-anchor="middle" fill="#111" textLength="34.59" lengthAdjust="spacingAndGlyphs">cells (N = 6)</text>
<text class="lt" x="466.00" y="262.90" font-size="6.8" text-anchor="middle" fill="#111" textLength="35.84" lengthAdjust="spacingAndGlyphs">WM patients</text>
<text class="lt" x="466.00" y="270.60" font-size="6.8" text-anchor="middle" fill="#111" textLength="41.04" lengthAdjust="spacingAndGlyphs">LPCs (N = 24)</text>
<circle cx="382.50" cy="247.10" r="1.1" fill="#fff" stroke="#111" stroke-width="0.7"/>
<rect x="68.27" y="381.30" width="10.60" height="8.30" fill="#c9c9c9"/>
<line x1="73.57" y1="380.50" x2="73.57" y2="381.30" stroke="#111" stroke-width="1.3"/>
<line x1="71.27" y1="380.50" x2="75.87" y2="380.50" stroke="#111" stroke-width="1.5"/>
<rect x="84.34" y="360.20" width="10.60" height="29.40" fill="#c9c9c9"/>
<line x1="89.64" y1="357.60" x2="89.64" y2="360.20" stroke="#111" stroke-width="1.3"/>
<line x1="87.34" y1="357.60" x2="91.94" y2="357.60" stroke="#111" stroke-width="1.5"/>
<rect x="100.41" y="382.10" width="10.60" height="7.50" fill="#858585"/>
<line x1="105.71" y1="376.10" x2="105.71" y2="382.10" stroke="#111" stroke-width="1.3"/>
<line x1="103.41" y1="376.10" x2="108.01" y2="376.10" stroke="#111" stroke-width="1.5"/>
<rect x="116.48" y="381.90" width="10.60" height="7.70" fill="#858585"/>
<line x1="121.78" y1="381.40" x2="121.78" y2="381.90" stroke="#111" stroke-width="1.3"/>
<line x1="119.48" y1="381.40" x2="124.08" y2="381.40" stroke="#111" stroke-width="1.5"/>
<rect x="132.55" y="308.10" width="10.60" height="81.50" fill="#858585"/>
<line x1="137.85" y1="307.70" x2="137.85" y2="308.10" stroke="#111" stroke-width="1.3"/>
<line x1="135.55" y1="307.70" x2="140.15" y2="307.70" stroke="#111" stroke-width="1.5"/>
<rect x="148.62" y="378.70" width="10.60" height="10.90" fill="#3d3d3d"/>
<line x1="153.92" y1="376.30" x2="153.92" y2="378.70" stroke="#111" stroke-width="1.3"/>
<line x1="151.62" y1="376.30" x2="156.22" y2="376.30" stroke="#111" stroke-width="1.5"/>
<rect x="164.69" y="384.10" width="10.60" height="5.50" fill="#3d3d3d"/>
<line x1="169.99" y1="381.40" x2="169.99" y2="384.10" stroke="#111" stroke-width="1.3"/>
<line x1="167.69" y1="381.40" x2="172.29" y2="381.40" stroke="#111" stroke-width="1.5"/>
<rect x="180.76" y="348.40" width="10.60" height="41.20" fill="#3d3d3d"/>
<line x1="186.06" y1="344.40" x2="186.06" y2="348.40" stroke="#111" stroke-width="1.3"/>
<line x1="183.76" y1="344.40" x2="188.36" y2="344.40" stroke="#111" stroke-width="1.5"/>
<rect x="196.83" y="386.90" width="10.60" height="2.70" fill="#050505"/>
<rect x="212.90" y="381.30" width="10.60" height="8.30" fill="#050505"/>
<rect x="228.97" y="343.20" width="10.60" height="46.40" fill="#050505"/>
<line x1="234.27" y1="327.60" x2="234.27" y2="343.20" stroke="#111" stroke-width="1.3"/>
<line x1="231.97" y1="327.60" x2="236.57" y2="327.60" stroke="#111" stroke-width="1.5"/>
<line x1="49.40" y1="304.00" x2="49.40" y2="389.60" stroke="#1a1a1a" stroke-width="1.2"/>
<line x1="46.40" y1="389.60" x2="242.30" y2="389.60" stroke="#1a1a1a" stroke-width="1.5"/>
<line x1="46.40" y1="389.60" x2="49.40" y2="389.60" stroke="#1a1a1a" stroke-width="1.2"/>
<text class="tk" x="43.30" y="392.10" font-size="6.5" text-anchor="end" fill="#111" textLength="3.50" lengthAdjust="spacingAndGlyphs">0</text>
<line x1="46.40" y1="373.04" x2="49.40" y2="373.04" stroke="#1a1a1a" stroke-width="1.2"/>
<text class="tk" x="43.30" y="375.54" font-size="6.5" text-anchor="end" fill="#111" textLength="3.50" lengthAdjust="spacingAndGlyphs">2</text>
<line x1="46.40" y1="356.48" x2="49.40" y2="356.48" stroke="#1a1a1a" stroke-width="1.2"/>
<text class="tk" x="43.30" y="358.98" font-size="6.5" text-anchor="end" fill="#111" textLength="3.50" lengthAdjust="spacingAndGlyphs">4</text>
<line x1="46.40" y1="339.92" x2="49.40" y2="339.92" stroke="#1a1a1a" stroke-width="1.2"/>
<text class="tk" x="43.30" y="342.42" font-size="6.5" text-anchor="end" fill="#111" textLength="3.50" lengthAdjust="spacingAndGlyphs">6</text>
<line x1="46.40" y1="323.36" x2="49.40" y2="323.36" stroke="#1a1a1a" stroke-width="1.2"/>
<text class="tk" x="43.30" y="325.86" font-size="6.5" text-anchor="end" fill="#111" textLength="3.50" lengthAdjust="spacingAndGlyphs">8</text>
<line x1="46.40" y1="306.80" x2="49.40" y2="306.80" stroke="#1a1a1a" stroke-width="1.2"/>
<text class="tk" x="43.30" y="309.30" font-size="6.5" text-anchor="end" fill="#111" textLength="7.01" lengthAdjust="spacingAndGlyphs">10</text>
<text x="30.80" y="346.80" font-size="8.6" text-anchor="middle" fill="#111" transform="rotate(-90 30.80 346.80)" textLength="83.00" lengthAdjust="spacingAndGlyphs">IL-6 mRNA Fold Change</text>
<line x1="57.50" y1="389.60" x2="57.50" y2="393.20" stroke="#1a1a1a" stroke-width="1.1"/>
<text x="60.30" y="400.40" font-size="7.5" text-anchor="end" fill="#111" transform="rotate(-45 60.30 400.40)" textLength="16.16" lengthAdjust="spacingAndGlyphs">Vector</text>
<line x1="73.57" y1="389.60" x2="73.57" y2="393.20" stroke="#1a1a1a" stroke-width="1.1"/>
<text x="76.37" y="400.40" font-size="7.5" text-anchor="end" fill="#111" transform="rotate(-45 76.37 400.40)" textLength="8.86" lengthAdjust="spacingAndGlyphs">WT</text>
<line x1="89.64" y1="389.60" x2="89.64" y2="393.20" stroke="#1a1a1a" stroke-width="1.1"/>
<text x="92.44" y="400.40" font-size="7.5" text-anchor="end" fill="#111" transform="rotate(-45 92.44 400.40)" textLength="16.48" lengthAdjust="spacingAndGlyphs">L265P</text>
<line x1="105.71" y1="389.60" x2="105.71" y2="393.20" stroke="#1a1a1a" stroke-width="1.1"/>
<text x="108.51" y="400.40" font-size="7.5" text-anchor="end" fill="#111" transform="rotate(-45 108.51 400.40)" textLength="16.16" lengthAdjust="spacingAndGlyphs">Vector</text>
<line x1="121.78" y1="389.60" x2="121.78" y2="393.20" stroke="#1a1a1a" stroke-width="1.1"/>
<text x="124.58" y="400.40" font-size="7.5" text-anchor="end" fill="#111" transform="rotate(-45 124.58 400.40)" textLength="8.86" lengthAdjust="spacingAndGlyphs">WT</text>
<line x1="137.85" y1="389.60" x2="137.85" y2="393.20" stroke="#1a1a1a" stroke-width="1.1"/>
<text x="140.65" y="400.40" font-size="7.5" text-anchor="end" fill="#111" transform="rotate(-45 140.65 400.40)" textLength="16.48" lengthAdjust="spacingAndGlyphs">L265P</text>
<line x1="153.92" y1="389.60" x2="153.92" y2="393.20" stroke="#1a1a1a" stroke-width="1.1"/>
<text x="156.72" y="400.40" font-size="7.5" text-anchor="end" fill="#111" transform="rotate(-45 156.72 400.40)" textLength="16.16" lengthAdjust="spacingAndGlyphs">Vector</text>
<line x1="169.99" y1="389.60" x2="169.99" y2="393.20" stroke="#1a1a1a" stroke-width="1.1"/>
<text x="172.79" y="400.40" font-size="7.5" text-anchor="end" fill="#111" transform="rotate(-45 172.79 400.40)" textLength="8.86" lengthAdjust="spacingAndGlyphs">WT</text>
<line x1="186.06" y1="389.60" x2="186.06" y2="393.20" stroke="#1a1a1a" stroke-width="1.1"/>
<text x="188.86" y="400.40" font-size="7.5" text-anchor="end" fill="#111" transform="rotate(-45 188.86 400.40)" textLength="16.48" lengthAdjust="spacingAndGlyphs">L265P</text>
<line x1="202.13" y1="389.60" x2="202.13" y2="393.20" stroke="#1a1a1a" stroke-width="1.1"/>
<text x="204.93" y="400.40" font-size="7.5" text-anchor="end" fill="#111" transform="rotate(-45 204.93 400.40)" textLength="16.16" lengthAdjust="spacingAndGlyphs">Vector</text>
<line x1="218.20" y1="389.60" x2="218.20" y2="393.20" stroke="#1a1a1a" stroke-width="1.1"/>
<text x="221.00" y="400.40" font-size="7.5" text-anchor="end" fill="#111" transform="rotate(-45 221.00 400.40)" textLength="8.86" lengthAdjust="spacingAndGlyphs">WT</text>
<line x1="234.27" y1="389.60" x2="234.27" y2="393.20" stroke="#1a1a1a" stroke-width="1.1"/>
<text x="237.07" y="400.40" font-size="7.5" text-anchor="end" fill="#111" transform="rotate(-45 237.07 400.40)" textLength="16.48" lengthAdjust="spacingAndGlyphs">L265P</text>
<line x1="49.50" y1="416.30" x2="95.40" y2="416.30" stroke="#000" stroke-width="1.5"/>
<text x="72.80" y="424.60" font-size="7.0" text-anchor="middle" fill="#111" textLength="25.60" lengthAdjust="spacingAndGlyphs">BCWM.1</text>
<line x1="99.70" y1="416.30" x2="144.70" y2="416.30" stroke="#000" stroke-width="1.5"/>
<text x="121.40" y="424.60" font-size="7.0" text-anchor="middle" fill="#111" textLength="25.24" lengthAdjust="spacingAndGlyphs">MWCL-1</text>
<line x1="148.50" y1="416.30" x2="194.00" y2="416.30" stroke="#000" stroke-width="1.5"/>
<text x="171.70" y="424.60" font-size="7.0" text-anchor="middle" fill="#111" textLength="27.15" lengthAdjust="spacingAndGlyphs">OCI-Ly19</text>
<line x1="198.20" y1="416.30" x2="243.70" y2="416.30" stroke="#000" stroke-width="1.5"/>
<text x="221.40" y="424.60" font-size="7.0" text-anchor="middle" fill="#111" textLength="20.27" lengthAdjust="spacingAndGlyphs">Ramos</text>
<line x1="53.10" y1="429.00" x2="143.20" y2="429.00" stroke="#000" stroke-width="1.5"/>
<text x="97.80" y="437.70" font-size="7.0" text-anchor="middle" fill="#111" textLength="42.28" lengthAdjust="spacingAndGlyphs">MYD88 L265P</text>
<line x1="151.00" y1="429.00" x2="242.00" y2="429.00" stroke="#000" stroke-width="1.5"/>
<text x="196.70" y="437.70" font-size="7.0" text-anchor="middle" fill="#111" textLength="33.59" lengthAdjust="spacingAndGlyphs">MYD88 WT</text>
<rect x="320.60" y="388.90" width="10.40" height="0.70" fill="#c9c9c9"/>
<rect x="336.65" y="382.00" width="10.40" height="7.60" fill="#c9c9c9"/>
<line x1="341.85" y1="381.30" x2="341.85" y2="382.00" stroke="#111" stroke-width="1.3"/>
<line x1="339.55" y1="381.30" x2="344.15" y2="381.30" stroke="#111" stroke-width="1.5"/>
<rect x="352.70" y="381.10" width="10.40" height="8.50" fill="#c9c9c9"/>
<line x1="357.90" y1="379.60" x2="357.90" y2="381.10" stroke="#111" stroke-width="1.3"/>
<line x1="355.60" y1="379.60" x2="360.20" y2="379.60" stroke="#111" stroke-width="1.5"/>
<rect x="368.75" y="386.90" width="10.40" height="2.70" fill="#858585"/>
<rect x="384.80" y="381.10" width="10.40" height="8.50" fill="#858585"/>
<line x1="390.00" y1="380.00" x2="390.00" y2="381.10" stroke="#111" stroke-width="1.3"/>
<line x1="387.70" y1="380.00" x2="392.30" y2="380.00" stroke="#111" stroke-width="1.5"/>
<rect x="400.85" y="381.10" width="10.40" height="8.50" fill="#858585"/>
<line x1="406.05" y1="380.30" x2="406.05" y2="381.10" stroke="#111" stroke-width="1.3"/>
<line x1="403.75" y1="380.30" x2="408.35" y2="380.30" stroke="#111" stroke-width="1.5"/>
<rect x="416.90" y="388.60" width="10.40" height="1.00" fill="#3d3d3d"/>
<rect x="432.95" y="380.90" width="10.40" height="8.70" fill="#3d3d3d"/>
<line x1="438.15" y1="379.40" x2="438.15" y2="380.90" stroke="#111" stroke-width="1.3"/>
<line x1="435.85" y1="379.40" x2="440.45" y2="379.40" stroke="#111" stroke-width="1.5"/>
<rect x="449.00" y="387.70" width="10.40" height="1.90" fill="#3d3d3d"/>
<rect x="465.05" y="388.30" width="10.40" height="1.30" fill="#050505"/>
<line x1="470.25" y1="386.30" x2="470.25" y2="388.30" stroke="#111" stroke-width="1.3"/>
<line x1="467.95" y1="386.30" x2="472.55" y2="386.30" stroke="#111" stroke-width="1.5"/>
<rect x="481.10" y="380.60" width="10.40" height="9.00" fill="#050505"/>
<rect x="497.15" y="382.50" width="10.40" height="7.10" fill="#050505"/>
<line x1="502.35" y1="380.00" x2="502.35" y2="382.50" stroke="#111" stroke-width="1.3"/>
<line x1="500.05" y1="380.00" x2="504.65" y2="380.00" stroke="#111" stroke-width="1.5"/>
<line x1="317.50" y1="304.20" x2="317.50" y2="389.60" stroke="#1a1a1a" stroke-width="1.2"/>
<line x1="314.50" y1="389.60" x2="510.70" y2="389.60" stroke="#1a1a1a" stroke-width="1.5"/>
<line x1="314.50" y1="389.60" x2="317.50" y2="389.60" stroke="#1a1a1a" stroke-width="1.2"/>
<text class="tk" x="312.30" y="392.10" font-size="6.5" text-anchor="end" fill="#111" textLength="3.50" lengthAdjust="spacingAndGlyphs">0</text>
<line x1="314.50" y1="373.04" x2="317.50" y2="373.04" stroke="#1a1a1a" stroke-width="1.2"/>
<text class="tk" x="312.30" y="375.54" font-size="6.5" text-anchor="end" fill="#111" textLength="3.50" lengthAdjust="spacingAndGlyphs">2</text>
<line x1="314.50" y1="356.48" x2="317.50" y2="356.48" stroke="#1a1a1a" stroke-width="1.2"/>
<text class="tk" x="312.30" y="358.98" font-size="6.5" text-anchor="end" fill="#111" textLength="3.50" lengthAdjust="spacingAndGlyphs">4</text>
<line x1="314.50" y1="339.92" x2="317.50" y2="339.92" stroke="#1a1a1a" stroke-width="1.2"/>
<text class="tk" x="312.30" y="342.42" font-size="6.5" text-anchor="end" fill="#111" textLength="3.50" lengthAdjust="spacingAndGlyphs">6</text>
<line x1="314.50" y1="323.36" x2="317.50" y2="323.36" stroke="#1a1a1a" stroke-width="1.2"/>
<text class="tk" x="312.30" y="325.86" font-size="6.5" text-anchor="end" fill="#111" textLength="3.50" lengthAdjust="spacingAndGlyphs">8</text>
<line x1="314.50" y1="306.80" x2="317.50" y2="306.80" stroke="#1a1a1a" stroke-width="1.2"/>
<text class="tk" x="312.30" y="309.30" font-size="6.5" text-anchor="end" fill="#111" textLength="7.01" lengthAdjust="spacingAndGlyphs">10</text>
<text x="299.50" y="346.40" font-size="8.6" text-anchor="middle" fill="#111" transform="rotate(-90 299.50 346.40)" textLength="88.20" lengthAdjust="spacingAndGlyphs">IL-6R mRNA Fold Change</text>
<line x1="325.80" y1="389.60" x2="325.80" y2="393.20" stroke="#1a1a1a" stroke-width="1.1"/>
<text x="328.60" y="400.40" font-size="7.5" text-anchor="end" fill="#111" transform="rotate(-45 328.60 400.40)" textLength="17.01" lengthAdjust="spacingAndGlyphs">Vector</text>
<line x1="341.85" y1="389.60" x2="341.85" y2="393.20" stroke="#1a1a1a" stroke-width="1.1"/>
<text x="344.65" y="400.40" font-size="7.5" text-anchor="end" fill="#111" transform="rotate(-45 344.65 400.40)" textLength="9.33" lengthAdjust="spacingAndGlyphs">WT</text>
<line x1="357.90" y1="389.60" x2="357.90" y2="393.20" stroke="#1a1a1a" stroke-width="1.1"/>
<text x="360.70" y="400.40" font-size="7.5" text-anchor="end" fill="#111" transform="rotate(-45 360.70 400.40)" textLength="17.35" lengthAdjust="spacingAndGlyphs">L265P</text>
<line x1="373.95" y1="389.60" x2="373.95" y2="393.20" stroke="#1a1a1a" stroke-width="1.1"/>
<text x="376.75" y="400.40" font-size="7.5" text-anchor="end" fill="#111" transform="rotate(-45 376.75 400.40)" textLength="17.01" lengthAdjust="spacingAndGlyphs">Vector</text>
<line x1="390.00" y1="389.60" x2="390.00" y2="393.20" stroke="#1a1a1a" stroke-width="1.1"/>
<text x="392.80" y="400.40" font-size="7.5" text-anchor="end" fill="#111" transform="rotate(-45 392.80 400.40)" textLength="9.33" lengthAdjust="spacingAndGlyphs">WT</text>
<line x1="406.05" y1="389.60" x2="406.05" y2="393.20" stroke="#1a1a1a" stroke-width="1.1"/>
<text x="408.85" y="400.40" font-size="7.5" text-anchor="end" fill="#111" transform="rotate(-45 408.85 400.40)" textLength="17.35" lengthAdjust="spacingAndGlyphs">L265P</text>
<line x1="422.10" y1="389.60" x2="422.10" y2="393.20" stroke="#1a1a1a" stroke-width="1.1"/>
<text x="424.90" y="400.40" font-size="7.5" text-anchor="end" fill="#111" transform="rotate(-45 424.90 400.40)" textLength="17.01" lengthAdjust="spacingAndGlyphs">Vector</text>
<line x1="438.15" y1="389.60" x2="438.15" y2="393.20" stroke="#1a1a1a" stroke-width="1.1"/>
<text x="440.95" y="400.40" font-size="7.5" text-anchor="end" fill="#111" transform="rotate(-45 440.95 400.40)" textLength="9.33" lengthAdjust="spacingAndGlyphs">WT</text>
<line x1="454.20" y1="389.60" x2="454.20" y2="393.20" stroke="#1a1a1a" stroke-width="1.1"/>
<text x="457.00" y="400.40" font-size="7.5" text-anchor="end" fill="#111" transform="rotate(-45 457.00 400.40)" textLength="17.35" lengthAdjust="spacingAndGlyphs">L265P</text>
<line x1="470.25" y1="389.60" x2="470.25" y2="393.20" stroke="#1a1a1a" stroke-width="1.1"/>
<text x="473.05" y="400.40" font-size="7.5" text-anchor="end" fill="#111" transform="rotate(-45 473.05 400.40)" textLength="17.01" lengthAdjust="spacingAndGlyphs">Vector</text>
<line x1="486.30" y1="389.60" x2="486.30" y2="393.20" stroke="#1a1a1a" stroke-width="1.1"/>
<text x="489.10" y="400.40" font-size="7.5" text-anchor="end" fill="#111" transform="rotate(-45 489.10 400.40)" textLength="9.33" lengthAdjust="spacingAndGlyphs">WT</text>
<line x1="502.35" y1="389.60" x2="502.35" y2="393.20" stroke="#1a1a1a" stroke-width="1.1"/>
<text x="505.15" y="400.40" font-size="7.5" text-anchor="end" fill="#111" transform="rotate(-45 505.15 400.40)" textLength="17.35" lengthAdjust="spacingAndGlyphs">L265P</text>
<line x1="318.90" y1="416.30" x2="363.90" y2="416.30" stroke="#000" stroke-width="1.5"/>
<text x="341.20" y="424.60" font-size="7.0" text-anchor="middle" fill="#111" textLength="25.60" lengthAdjust="spacingAndGlyphs">BCWM.1</text>
<line x1="368.20" y1="416.30" x2="413.70" y2="416.30" stroke="#000" stroke-width="1.5"/>
<text x="390.40" y="424.60" font-size="7.0" text-anchor="middle" fill="#111" textLength="25.24" lengthAdjust="spacingAndGlyphs">MWCL-1</text>
<line x1="417.40" y1="416.30" x2="462.50" y2="416.30" stroke="#000" stroke-width="1.5"/>
<text x="439.50" y="424.60" font-size="7.0" text-anchor="middle" fill="#111" textLength="27.15" lengthAdjust="spacingAndGlyphs">OCI-Ly19</text>
<line x1="466.70" y1="416.30" x2="512.00" y2="416.30" stroke="#000" stroke-width="1.5"/>
<text x="489.60" y="424.60" font-size="7.0" text-anchor="middle" fill="#111" textLength="20.27" lengthAdjust="spacingAndGlyphs">Ramos</text>
<line x1="321.00" y1="429.00" x2="411.50" y2="429.00" stroke="#000" stroke-width="1.5"/>
<text x="366.60" y="437.70" font-size="7.0" text-anchor="middle" fill="#111" textLength="42.28" lengthAdjust="spacingAndGlyphs">MYD88 L265P</text>
<line x1="419.50" y1="429.00" x2="510.50" y2="429.00" stroke="#000" stroke-width="1.5"/>
<text x="465.00" y="437.70" font-size="7.0" text-anchor="middle" fill="#111" textLength="33.59" lengthAdjust="spacingAndGlyphs">MYD88 WT</text>
</svg></div>
</body></html>
